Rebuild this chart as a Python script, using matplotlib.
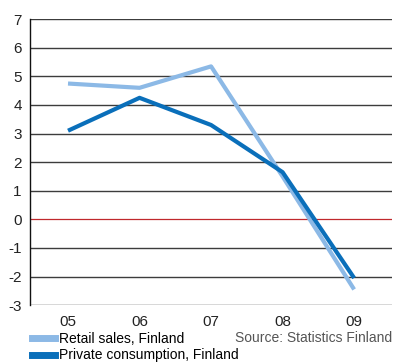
import matplotlib.pyplot as plt
from matplotlib.lines import Line2D

plt.rcParams['font.family'] = ['Liberation Sans', 'DejaVu Sans']
plt.rcParams['axes.unicode_minus'] = False

years = ['05', '06', '07', '08', '09']
retail_sales = [4.75, 4.6, 5.35, 1.5, -2.45]
private_consumption = [3.1, 4.25, 3.3, 1.65, -2.05]
y_ticks = list(range(-3, 8))

light_blue = '#8cb9e6'
dark_blue = '#0a6fba'

fig = plt.figure(figsize=(3.96, 3.62), dpi=100)
ax = fig.add_axes([0.076, 0.157, 0.914, 0.79])

x = range(len(years))
for t in y_ticks:
    if t == 0:
        ax.axhline(t, color='#c0282d', lw=0.9, zorder=1)
    else:
        ax.axhline(t, color='#3c3c3c', lw=1.0, zorder=1)

ax.plot(x, retail_sales, color=light_blue, lw=3.0, solid_capstyle='butt', zorder=3)
ax.plot(x, private_consumption, color=dark_blue, lw=3.0, solid_capstyle='butt', zorder=4)

ax.set_xlim(-0.53, 4.53)
ax.set_ylim(-3, 7)
ax.set_xticks(list(x))
ax.set_xticklabels(years)
ax.set_yticks(y_ticks)
ax.tick_params(length=0, labelsize=11, colors='#222222', pad=6)
ax.tick_params(axis='x', pad=7)
for side in ['top', 'right', 'bottom']:
    ax.spines[side].set_visible(False)
ax.spines['left'].set_color('#111111')
ax.spines['left'].set_linewidth(1.0)

handles = [Line2D([], [], color=light_blue, lw=5),
           Line2D([], [], color=dark_blue, lw=5)]
fig.legend(handles, ['Retail sales, Finland', 'Private consumption, Finland'],
           loc='upper left', bbox_to_anchor=(0.082, 0.082), frameon=False,
           fontsize=10, handlelength=1.6, handletextpad=0.3,
           labelspacing=0.15, borderpad=0, borderaxespad=0)
fig.text(0.99, 0.067, 'Source: Statistics Finland', ha='right', va='center',
         fontsize=10, color='#555555')

fig.savefig('out.png', dpi=100)
